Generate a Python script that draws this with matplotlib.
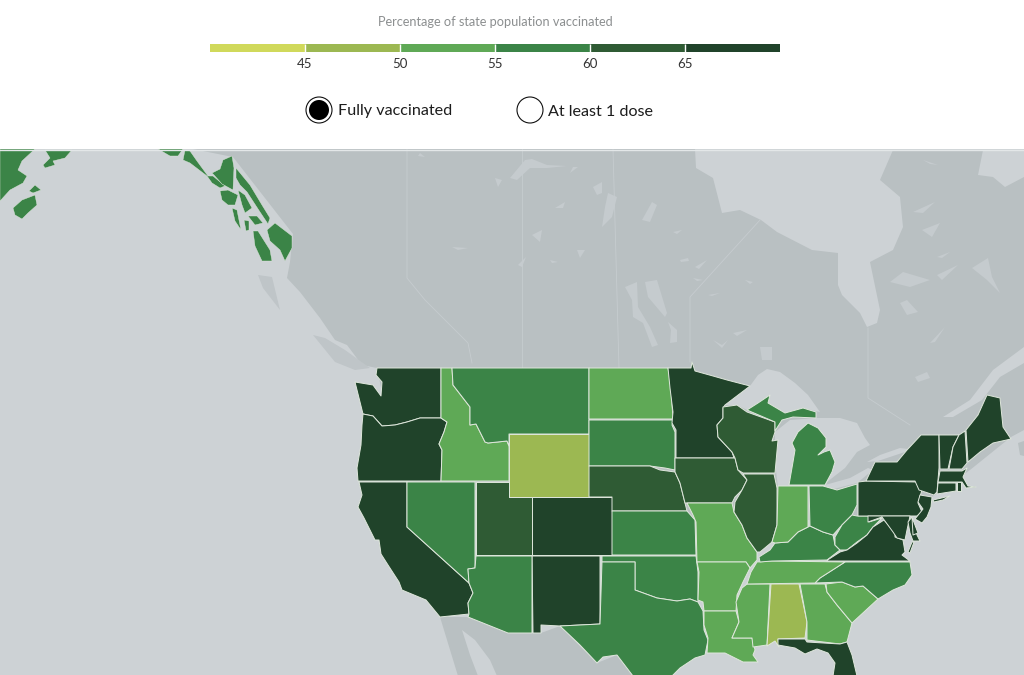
import matplotlib
matplotlib.use("Agg")
import matplotlib.pyplot as plt
from matplotlib.colors import BoundaryNorm, ListedColormap
from matplotlib.patches import Circle, Polygon, Rectangle

plt.rcParams['font.family'] = ['Lato', 'DejaVu Sans']

# Legend scale
legend_title = "Percentage of state population vaccinated"
breaks = [40, 45, 50, 55, 60, 65, 70]
tick_values = [45, 50, 55, 60, 65]
bin_colors = ["#d0d95b", "#9cb852", "#5fa956", "#3b8447", "#2f5b34", "#20432a"]
toggle_labels = ["Fully vaccinated", "At least 1 dose"]

OCEAN = "#cdd2d5"
LAND = "#b9c0c2"
LAKE = "#c5cbce"
BORDER = "#dfe7dc"

# Outlines, in image pixels
WA = [(377,368),(441,368),(441,418),(420,418),(407,422),(395,425),(382,426),(373,416),(363,414),(360,402),(355,382),(373,385),(381,396),(382,382),(376,375)]
OR = [(363,414),(373,416),(382,426),(395,425),(407,422),(420,418),(441,418),(447,422),(444,432),(439,444),(442,450),(441,481),(358,481),(357,468),(361,445),(362,425)]
CA = [(359,482),(407,482),(407,527),(469,583),(473,593),(468,603),(469,614),(440,617),(426,600),(402,590),(399,582),(388,565),(381,554),(379,540),(375,540),(364,518),(358,507),(362,495)]
NV = [(407,482),(475,482),(475,568),(468,569),(469,583),(407,527)]
UT = [(476,482),(509,482),(509,497),(532,497),(532,555),(476,555)]
ID = [(441,368),(452,368),(453,385),(470,407),(470,425),(476,424),(485,442),(488,443),(507,441),(509,446),(509,481),(441,481),(442,450),(439,444),(444,432),(447,422),(441,418)]
MT = [(452,368),(589,368),(589,434),(509,434),(509,446),(507,441),(488,443),(485,442),(476,424),(470,425),(470,407),(453,385)]
WY = [(509,434),(589,434),(589,497),(509,497)]
CO = [(532,497),(612,497),(612,555),(532,555)]
NM = [(532,556),(600,556),(600,624),(560,626),(541,625),(541,633),(533,633)]
AZ = [(476,556),(532,556),(532,633),(508,633),(468,617),(469,614),(468,603),(473,593),(469,583),(468,569),(475,568)]
ND = [(589,368),(668,368),(671,388),(673,419),(589,419)]
SD = [(589,420),(673,420),(672,425),(675,432),(675,470),(665,468),(650,466),(589,466)]
NE = [(589,466),(650,466),(660,470),(675,472),(680,483),(685,503),(687,511),(612,511),(612,497),(589,497)]
KS = [(612,511),(687,511),(695,520),(696,555),(612,555)]
OK = [(602,556),(696,556),(698,572),(698,602),(690,599),(677,601),(657,598),(635,590),(635,562),(602,562)]
TX = [(602,562),(635,562),(635,590),(657,598),(677,601),(690,599),(698,602),(703,611),(704,630),(708,640),(705,655),(695,658),(680,668),(672,676),(633,676),(617,655),(603,657),(597,663),(580,645),(560,626),(600,624)]
MN = [(668,368),(691,368),(692,362),(695,371),(713,376),(727,380),(750,386),(725,405),(723,408),(723,418),(717,425),(718,437),(732,452),(734,458),(676,458),(676,430),(672,423),(673,412),(670,388)]
IA = [(675,458),(735,458),(738,470),(747,480),(742,490),(735,497),(732,503),(685,503),(680,483),(675,472)]
MO = [(687,503),(732,503),(734,512),(742,525),(747,538),(757,552),(757,560),(750,568),(746,562),(697,562),(696,522),(693,515)]
AR = [(697,562),(746,562),(750,568),(743,582),(737,595),(736,611),(704,611),(703,602),(698,600),(699,572)]
LA = [(704,611),(736,611),(739,622),(732,638),(752,638),(755,650),(753,655),(758,662),(743,662),(725,653),(707,653),(708,638),(704,625)]
MS = [(747,584),(770,584),(767,645),(753,647),(752,638),(732,638),(739,622),(736,602),(742,588)]
AL = [(771,584),(799,584),(807,622),(805,638),(778,639),(779,647),(775,641),(767,646)]
GA = [(800,584),(825,584),(827,592),(837,605),(852,623),(847,642),(840,644),(807,640),(807,622)]
FL = [(778,639),(805,639),(807,642),(840,644),(847,642),(852,655),(857,676),(833,676),(835,663),(828,653),(817,649),(805,654),(795,648),(778,645)]
SC = [(826,584),(842,582),(855,587),(863,586),(878,599),(852,623),(837,605),(827,592)]
NC = [(815,583),(820,578),(845,562),(910,562),(912,575),(905,585),(893,590),(878,599),(863,586),(855,587),(842,582)]
TN = [(757,562),(772,561),(845,562),(820,578),(815,583),(747,584),(751,572)]
KY = [(760,562),(759,557),(770,550),(775,543),(788,542),(798,532),(810,526),(823,532),(833,535),(835,545),(840,550),(827,560),(772,561)]
IL = [(743,474),(774,474),(777,488),(777,525),(772,542),(760,552),(757,552),(747,538),(742,525),(734,512),(735,502),(742,490),(747,480)]
WI = [(723,407),(737,405),(747,412),(775,422),(775,432),(772,441),(778,440),(775,473),(743,473),(738,470),(735,458),(732,452),(718,437),(717,425),(723,418)]
IN = [(778,486),(808,486),(808,527),(798,532),(788,542),(775,543),(772,542),(777,525)]
MI_LOWER = [(789,485),(793,462),(795,450),(792,443),(798,432),(808,423),(818,428),(826,438),(826,447),(818,455),(824,452),(830,450),(835,462),(832,472),(825,485)]
MI_UPPER = [(747,410),(758,403),(770,395),(768,403),(785,413),(803,408),(816,412),(816,418),(793,417),(782,420),(775,431),(775,422)]
OH = [(809,486),(823,486),(837,490),(857,484),(857,505),(852,515),(842,525),(833,535),(823,532),(810,526)]
WV = [(835,537),(842,525),(852,515),(857,516),(869,516),(869,522),(882,518),(873,527),(867,535),(857,542),(847,550),(840,550),(835,545)]
VA = [(826,561),(840,552),(847,550),(857,543),(867,535),(873,527),(884,520),(895,532),(895,537),(903,540),(905,552),(902,555),(910,561)]
VA_SHORE = [(914,542),(910,553),(908,552),(912,542)]
PA = [(858,482),(867,481),(917,482),(922,490),(918,503),(922,512),(917,516),(858,516)]
NY = [(866,481),(875,462),(897,462),(907,450),(921,435),(939,435),(939,468),(937,492),(934,495),(919,490),(915,481)]
NY_LONG = [(933,500),(950,496),(943,500),(934,502)]
NJ = [(920,495),(932,497),(931,507),(927,517),(922,523),(915,519),(923,509),(918,502)]
VT = [(939,435),(959,435),(953,447),(948,469),(940,469)]
NH = [(959,435),(965,431),(967,463),(962,469),(949,469),(953,447)]
ME = [(966,430),(978,415),(987,395),(1000,398),(1003,427),(1011,439),(993,443),(980,452),(968,462)]
MA = [(940,471),(962,471),(967,468),(963,477),(968,486),(976,487),(966,488),(962,482),(938,482)]
CT = [(938,483),(956,483),(956,491),(937,494)]
RI = [(957,482),(961,482),(961,491),(957,491)]
MD_WEST = [(868,516),(910,516),(907,530),(905,540),(897,538),(893,532),(882,517),(868,522)]
MD_EAST = [(908,522),(912,517),(917,535),(920,541),(913,541),(910,533)]
DE = [(912,517),(918,533),(913,535)]
AK_MAIN = [(0,149),(35,149),(22,161),(18,170),(27,176),(23,183),(10,190),(0,201)]
AK_KODIAK = [(13,208),(22,200),(35,195),(37,205),(28,213),(22,219),(15,215)]
AK_AFOGNAK = [(29,191),(35,185),(41,190),(33,193)]
AK_KENAI = [(45,150),(72,150),(65,158),(53,161),(55,165),(45,168),(43,165),(50,158)]
AK_ARC = [(158,149),(183,149),(178,156),(170,156)]
AK_STRIP = [(185,150),(190,151),(197,161),(208,176),(213,176),(225,186),(220,188),(212,183),(207,176),(190,163),(183,160)]
AK_ADMIRALTY = [(212,173),(220,169),(223,160),(232,156),(234,168),(233,190),(222,184),(214,175)]
AK_COAST = [(236,168),(250,185),(262,205),(270,218),(268,224),(260,212),(247,192),(240,185),(236,178)]
AK_ISLE1 = [(238,190),(245,195),(252,208),(245,213),(242,205)]
AK_ISLE2 = [(220,191),(228,190),(238,195),(235,205),(228,205),(222,200)]
AK_ISLE3 = [(232,208),(237,210),(241,230),(235,221)]
AK_ISLE4 = [(248,216),(257,216),(263,223),(255,225)]
AK_ISLE5 = [(244,220),(249,221),(249,230),(246,231)]
AK_ISLE6 = [(253,231),(258,231),(270,250),(272,261),(262,261),(255,246)]
AK_SOUTH = [(267,230),(275,223),(292,236),(292,248),(285,261),(280,250),(270,241)]

alaska_shapes = [AK_MAIN,AK_KODIAK,AK_AFOGNAK,AK_KENAI,AK_ARC,AK_STRIP,AK_ADMIRALTY,AK_COAST,AK_ISLE1,AK_ISLE2,AK_ISLE3,AK_ISLE4,AK_ISLE5,AK_ISLE6,AK_SOUTH]
state_names = ["WA","OR","CA","NV","UT","ID","MT","WY","CO","NM","AZ","ND","SD","NE","KS","OK","TX","MN","IA","MO","AR","LA","MS","AL","GA","FL","SC","NC","TN","KY","IL","WI","IN","MI","MI","OH","WV","VA","VA","PA","NY","NY","NJ","VT","NH","ME","MA","CT","RI","MD","MD","DE"]
state_shapes = [WA,OR,CA,NV,UT,ID,MT,WY,CO,NM,AZ,ND,SD,NE,KS,OK,TX,MN,IA,MO,AR,LA,MS,AL,GA,FL,SC,NC,TN,KY,IL,WI,IN,MI_LOWER,MI_UPPER,OH,WV,VA,VA_SHORE,PA,NY,NY_LONG,NJ,VT,NH,ME,MA,CT,RI,MD_WEST,MD_EAST,DE]
# Estimated share per state: only the colour band can be read from the map
state_values = {
    "WA":67,"OR":67,"CA":67,"CO":67,"NM":67,"MN":67,"VA":67,"PA":67,"NY":67,"NJ":67,"VT":67,"NH":67,"ME":67,"MA":67,"CT":67,"RI":67,"MD":67,"DE":67,"FL":67,
    "UT":62,"NE":62,"IA":62,"WI":62,"IL":62,
    "NV":57,"MT":57,"AZ":57,"SD":57,"KS":57,"OK":57,"TX":57,"MI":57,"OH":57,"WV":57,"KY":57,"NC":57,"AK":57,
    "ID":52,"ND":52,"MO":52,"AR":52,"LA":52,"MS":52,"TN":52,"IN":52,"GA":52,"SC":52,
    "WY":47,"AL":47,
}

# Land and water underneath the states
canada = [(193,149),(695,149),(696,168),(713,178),(722,213),(740,210),(761,220),(777,232),(812,250),(838,253),(838,285),(842,295),(860,313),(867,327),(877,323),(880,310),(870,262),(893,250),(903,227),(900,197),(880,180),(893,150),(983,150),(978,175),(993,177),(1005,187),(1024,177),(1024,430),(1011,437),(970,470),(900,520),(700,520),(400,480),(377,368),(362,365),(347,345),(335,340),(320,318),(300,292),(287,278),(290,262),(293,234),(233,157)]
mexico = [(440,617),(468,617),(508,633),(541,633),(560,626),(597,663),(617,655),(633,676),(458,676)]
nova_scotia = [(1018,443),(1024,441),(1024,456),(1020,455)]
vancouver_isl = [(313,335),(325,338),(345,350),(370,368),(355,370),(335,362)]
haida_gwaii = [(258,275),(272,277),(280,310),(263,288)]
great_waters = [
    [(725,405),(750,386),(758,375),(767,369),(780,372),(795,383),(808,395),(820,412),(803,408),(785,413),(768,403),(770,395),(747,410),(737,405)],
    [(775,432),(790,420),(817,418),(840,418),(857,423),(865,438),(870,445),(857,452),(845,468),(827,482),(825,488),(778,488),(775,462)],
    [(825,485),(830,490),(857,483),(873,470),(868,468),(850,478)],
    [(867,462),(878,461),(905,452),(908,449),(900,448),(880,455)],
    [(943,417),(970,400),(993,370),(1024,347),(1024,363),(1000,377),(982,400),(953,417)],
    [(462,630),(475,640),(490,660),(497,676),(478,676),(470,655)],
]
small_lakes = [
    [(608,193),(617,197),(612,217),(602,227),(605,207)],
    [(642,220),(652,202),(657,205),(650,222)],
    [(645,282),(657,280),(667,313),(665,317),(648,297)],
    [(625,287),(637,282),(638,307),(650,327),(658,345),(652,347),(643,323),(633,317),(632,300)],
    [(668,322),(677,330),(677,342),(670,343),(671,330)],
    [(695,267),(707,260),(699,269)],
    [(680,260),(688,258),(689,261),(681,262)],
    [(693,278),(703,280),(697,281)],
    [(745,280),(753,282),(750,284)],
    [(708,295),(720,293),(712,296)],
    [(760,347),(772,347),(772,360),(762,360)],
    [(733,333),(747,330),(737,336)],
    [(713,340),(722,345),(728,340),(722,348)],
    [(673,232),(682,230),(677,234)],
    [(913,212),(935,202),(923,213)],
    [(922,230),(940,223),(932,237)],
    [(937,257),(950,252),(942,258)],
    [(890,282),(903,272),(930,280),(910,287)],
    [(937,275),(958,265),(942,280)],
    [(972,268),(988,258),(992,277),(1000,293),(987,280)],
    [(900,303),(907,300),(918,312),(907,315)],
    [(930,343),(945,327),(935,342)],
    [(915,377),(927,372),(930,378),(918,382)],
    [(923,160),(938,165),(930,164)],
    [(510,178),(525,160),(532,159),(547,165),(567,166),(547,168),(530,168),(517,180)],
    [(495,178),(502,180),(498,187)],
    [(555,208),(565,202),(563,208)],
    [(593,187),(602,182),(602,193),(597,195)],
    [(452,247),(468,248),(458,250)],
    [(532,235),(542,230),(540,242)],
    [(577,250),(585,250),(580,258)],
    [(550,260),(558,262),(552,263)],
    [(518,265),(526,257),(522,267)],
    [(420,153),(425,157),(418,156)],
    [(573,167),(578,167),(570,173)],
]
province_lines = [
    [(407,149),(407,278),(425,300),(450,325),(468,343),(472,363)],
    [(522,149),(522,368)],
    [(613,149),(619,368)],
    [(690,362),(690,297),(760,220)],
    [(868,328),(868,398),(910,425)],
]

fig = plt.figure(figsize=(10.24, 6.75), dpi=100)
ax = fig.add_axes([0, 0, 1, 1])
ax.set_xlim(0, 1024)
ax.set_ylim(675, 0)
ax.axis("off")

ax.add_patch(Rectangle((0, 149), 1024, 526, color=OCEAN, lw=0, zorder=0))
for land in [canada, mexico, nova_scotia]:
    ax.add_patch(Polygon(land, closed=True, fc=LAND, ec="none", zorder=1))
for isle in [vancouver_isl, haida_gwaii]:
    ax.add_patch(Polygon(isle, closed=True, fc="#bfc5c8", ec="none", zorder=1))
for water in great_waters:
    ax.add_patch(Polygon(water, closed=True, fc=OCEAN, ec="none", zorder=2))
for lake in small_lakes:
    ax.add_patch(Polygon(lake, closed=True, fc=LAKE, ec="none", zorder=2))
for line in province_lines:
    xs = [p[0] for p in line]
    ys = [p[1] for p in line]
    ax.plot(xs, ys, color="#c6cccf", lw=0.6, zorder=2)

cmap = ListedColormap(bin_colors)
norm = BoundaryNorm(breaks, cmap.N)
for name, shape in zip(state_names, state_shapes):
    color = cmap(norm(state_values[name]))
    ax.add_patch(Polygon(shape, closed=True, fc=color, ec=BORDER, lw=0.7, joinstyle="round", zorder=3))
# Alaska pieces are small, a thinner edge keeps them from washing out
for shape in alaska_shapes:
    color = cmap(norm(state_values["AK"]))
    ax.add_patch(Polygon(shape, closed=True, fc=color, ec=BORDER, lw=0.3, joinstyle="round", zorder=3))

# White header sits over the map
ax.add_patch(Rectangle((0, 0), 1024, 149, color="white", lw=0, zorder=5))
ax.plot([0, 1024], [149.5, 149.5], color="#e3e7e8", lw=1, zorder=6)

ax.text(495, 22, legend_title, ha="center", va="center", fontsize=9.2, color="#8c8f90", zorder=7)

# Toggle buttons
ax.add_patch(Circle((319, 110), 13, fc="white", ec="#111111", lw=0.8, zorder=7))
ax.add_patch(Circle((319, 110), 10, fc="black", ec="none", zorder=8))
ax.add_patch(Circle((530, 110), 13, fc="white", ec="#111111", lw=0.8, zorder=7))
ax.text(338, 115.5, toggle_labels[0], ha="left", va="baseline", fontsize=11.6, color="#1c1c1c", zorder=7)
ax.text(548, 115.5, toggle_labels[1], ha="left", va="baseline", fontsize=11.6, color="#1c1c1c", zorder=7)

# Colour bar with a real value axis
leg = fig.add_axes([210 / 1024, 1 - 52 / 675, 569.5 / 1024, 8 / 675], zorder=10)
for i, color in enumerate(bin_colors):
    leg.barh(0, breaks[i + 1] - breaks[i], left=breaks[i], height=1, color=color, lw=0)
leg.vlines(tick_values, -0.5, 0.5, color="white", lw=1)
leg.set_xlim(breaks[0], breaks[-1])
leg.set_ylim(-0.5, 0.5)
leg.set_yticks([])
leg.set_xticks(tick_values)
leg.tick_params(axis="x", length=0, pad=4.5, labelsize=9.5, labelcolor="#333333")
for side in leg.spines.values():
    side.set_visible(False)

fig.savefig("out.png", dpi=100)
